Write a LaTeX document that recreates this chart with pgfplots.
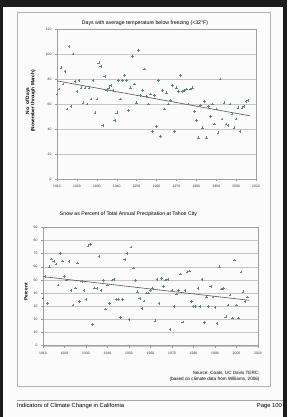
\documentclass[border=0pt]{standalone}
\usepackage{fontspec}
\setmainfont{Liberation Sans}
\usepackage{pgfplots}
\pgfplotsset{compat=1.18}
\definecolor{mk}{RGB}{88,138,124}
\definecolor{bgdark}{RGB}{28,28,28}
\definecolor{trend}{RGB}{85,85,85}

\pgfplotstableread{
year days
1910 68
1911 72
1912 89
1913 76
1914 86
1915 56
1916 106
1917 58
1918 100
1919 78
1920 70
1921 79
1922 73
1923 61
1924 73
1925 60
1926 73
1927 64
1928 79
1929 53
1930 64
1931 93
1932 90
1933 43
1934 82
1935 71
1936 73
1937 75
1938 71
1939 47
1940 53
1941 79
1942 64
1943 79
1944 83
1945 79
1946 55
1947 73
1948 98
1949 76
1950 61
1951 103
1952 67
1953 71
1954 88
1955 66
1956 60
1957 68
1958 38
1959 67
1960 42
1961 79
1962 34
1963 71
1964 56
1965 69
1966 60
1967 63
1968 75
1969 38
1970 73
1971 70
1972 83
1973 70
1974 71
1975 72
1976 60
1977 72
1978 73
1979 54
1980 47
1981 33
1982 59
1983 41
1984 62
1985 33
1986 58
1987 50
1988 60
1989 44
1990 56
1991 37
1992 80
1993 48
1994 61
1995 44
1996 43
1997 60
1998 52
1999 41
2000 48
2001 57
2002 38
2003 57
2004 58
2005 62
2006 63
}\freezetable

\pgfplotstableread{
year pct
1910 36
1911 52.5
1912 32
1913 60
1914 66
1915 64
1916 62
1917 46
1918 70
1919 64.5
1920 52.5
1921 50
1922 64
1923 42
1924 31
1925 44
1926 63
1927 33.5
1928 48.7
1929 42
1930 35
1931 76
1932 77
1933 16
1934 44
1935 43.6
1936 68
1937 42
1938 49.5
1939 28
1940 46
1941 32
1942 50
1943 50.5
1944 35
1945 35
1946 21.5
1947 35
1948 65.7
1949 70
1950 20
1951 75
1952 59
1953 49.5
1954 41
1955 36
1956 28.4
1957 34
1958 40
1959 40
1960 42
1961 44
1962 19
1963 50.5
1964 32
1965 51
1966 45
1967 50
1968 50.5
1969 12.4
1970 42
1971 29.7
1972 39.3
1973 42
1974 54.5
1975 18
1976 42
1977 56
1978 56.8
1979 33.5
1980 29.7
1981 29.7
1982 43.6
1983 29.7
1984 50.5
1985 17.5
1986 37
1987 29.7
1988 45
1989 37
1990 29
1991 17
1992 60
1993 43
1994 43.6
1995 22
1996 31
1997 38.5
1998 21
1999 65
2000 31
2001 21
2002 56
2003 41
2004 33.5
2005 37
}\snowtable

\pgfplotsset{
  chartstyle/.style={
    scale only axis,
    anchor=south west,
    xmin=1910, xmax=2010,
    xtick={1910,1920,...,2010},
    ymajorgrids,
    grid style={gray!45, line width=0.35pt},
    axis line style={gray!75, line width=0.5pt},
    tick style={gray!80, line width=0.4pt},
    major tick length=2pt,
    tick align=outside,
    tick pos=left,
    ticklabel style={font=\fontsize{3.4}{4}\selectfont, text=black!80},
    /pgf/number format/assume math mode=true,
    x tick label style={/pgf/number format/1000 sep={}},
    xticklabel style={yshift=-0.5pt},
  }
}

\begin{document}
\begin{tikzpicture}[x=1pt,y=1pt]
\path[use as bounding box, fill=bgdark] (0,0) rectangle (287,417);
\fill[white!97!gray] (3,0) rectangle (283,410);
\draw[gray!60, line width=0.6pt] (17,405) rectangle (270,31);

% ---- chart 1
\node[font=\fontsize{5.2}{6}\selectfont] at (145,394) {Days with average temperature below freezing (<32°F)};
\node[font=\bfseries\fontsize{4.8}{5.2}\selectfont, rotate=90, align=center] at (30.5,316) {No. of Days\\(November through March)};
\begin{axis}[chartstyle, at={(57pt,238pt)}, width=199pt, height=150pt,
  ymin=0, ymax=120, ytick={0,20,...,120}]
  \addplot[only marks, mark=+, mark size=1.3pt, color=mk, mark options={line width=0.4pt}] table[x=year, y=days] {\freezetable};
  \addplot[trend, line width=0.6pt, no marks] coordinates {(1910,78.5) (2007,50.5)};
\end{axis}

% ---- chart 2
\node[font=\fontsize{5.2}{6}\selectfont] at (128.5,203) {Snow as Percent of Total Annual Precipitation at Tahoe City};
\node[font=\bfseries\fontsize{4.8}{5.2}\selectfont, rotate=90] at (26,125) {Percent};
\begin{axis}[chartstyle, at={(43pt,71.3pt)}, width=215pt, height=118.4pt,
  ymin=0, ymax=90, ytick={0,10,...,90}]
  \addplot[only marks, mark=+, mark size=1.3pt, color=mk, mark options={line width=0.4pt}] table[x=year, y=pct] {\snowtable};
  \addplot[trend, line width=0.6pt, no marks] coordinates {(1910,52.5) (2006,34.5)};
\end{axis}

\node[font=\fontsize{4.6}{5}\selectfont, anchor=east] at (263,44) {Source: Coats, UC Davis TERC;};
\node[font=\fontsize{4.6}{5}\selectfont, anchor=east] at (263,37.5) {(based on climate data from Williams, 2006)};

% ---- footer
\draw[gray!70, line width=0.8pt] (17,16.5) -- (283,16.5);
\node[font=\fontsize{5.8}{6}\selectfont, anchor=west, inner sep=0pt] at (17,11.3) {Indicators of Climate Change in California};
\node[font=\fontsize{5.8}{6}\selectfont, anchor=east, inner sep=0pt] at (282,11.3) {Page 100};
\end{tikzpicture}
\end{document}
